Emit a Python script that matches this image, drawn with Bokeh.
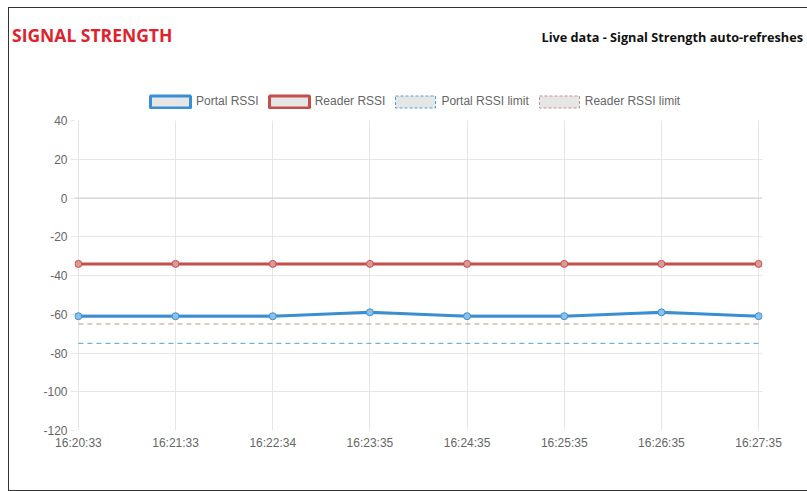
from bokeh.plotting import figure
from bokeh.layouts import column
from bokeh.models import Range1d, FixedTicker, Legend, LegendItem, Span, Div
from bokeh.embed import file_html
from bokeh.resources import INLINE

times = ["16:20:33", "16:21:33", "16:22:34", "16:23:35",
         "16:24:35", "16:25:35", "16:26:35", "16:27:35"]
portal_rssi = [-61, -61, -61, -59, -61, -61, -59, -61]
reader_rssi = [-34, -34, -34, -34, -34, -34, -34, -34]
portal_limit = [-75, -75, -75, -75, -75, -75, -75, -75]
reader_limit = [-65, -65, -65, -65, -65, -65, -65, -65]
y_ticks = [40, 20, 0, -20, -40, -60, -80, -100, -120]
y_labels = ["40", "20", "0", "-20", "-40", "-60", "-80", "-100", "-120"]
series_names = ["Portal RSSI", "Reader RSSI", "Portal RSSI limit", "Reader RSSI limit"]
title_left = "SIGNAL STRENGTH"
title_right = "Live data - Signal Strength auto-refreshes"

idx = list(range(len(times)))
NAN = float("nan")

BLUE = "#3a8fd3"
RED = "#c44f4a"
BLUE_LIM = "#4aa0dc"
RED_LIM = "#c8918c"
GRID = "#e6e6e6"
FONT = "Liberation Sans"

# ---------- titles ----------
header = Div(width=798, height=52, styles={"margin": "0", "padding": "0"},
             text=('<div style="position:relative;width:798px;height:52px;margin:0;padding:0;">'
                   '<span style="position:absolute;left:3px;top:16px;line-height:22px;'
                   'white-space:nowrap;font-family:\'Open Sans\';font-weight:bold;'
                   'font-size:17.5px;color:#e0222d;">' + title_left + '</span>'
                   '<span style="position:absolute;right:4px;top:21px;line-height:16px;'
                   'white-space:nowrap;font-family:\'Open Sans\';font-weight:bold;'
                   'font-size:12.7px;color:#111111;">' + title_right + '</span></div>'))

# ---------- legend strip ----------
h = figure(width=798, height=50, output_backend="svg", toolbar_location=None,
           x_range=Range1d(0, 1), y_range=Range1d(0, 1),
           x_axis_type=None, y_axis_type=None, min_border=0,
           outline_line_color=None, background_fill_color="white",
           border_fill_color="white")
h.grid.visible = False

sw1 = h.rect(x=[NAN], y=[NAN], width=1, height=1, fill_color="#e6e6e6",
             line_color=BLUE, line_width=3)
sw2 = h.rect(x=[NAN], y=[NAN], width=1, height=1, fill_color="#e6e6e6",
             line_color=RED, line_width=3)
sw3 = h.rect(x=[NAN], y=[NAN], width=1, height=1, fill_color="#e6e6e6",
             line_color=BLUE_LIM, line_width=1, line_dash="3 2")
sw4 = h.rect(x=[NAN], y=[NAN], width=1, height=1, fill_color="#e6e6e6",
             line_color=RED_LIM, line_width=1, line_dash="3 2")
legend = Legend(items=[LegendItem(label=n, renderers=[r])
                       for n, r in zip(series_names, [sw1, sw2, sw3, sw4])],
                orientation="horizontal", location=(71, 1.5),
                glyph_width=50, glyph_height=15, label_height=15,
                label_standoff=1, spacing=5, padding=0, margin=0,
                label_text_font=FONT, label_text_font_size="12px",
                label_text_color="#666666", label_text_baseline="middle",
                background_fill_alpha=0, border_line_color=None)
h.add_layout(legend)

# ---------- main chart ----------
p = figure(width=798, height=380, output_backend="svg", toolbar_location=None,
           x_range=Range1d(-0.04, 7.04), y_range=Range1d(-120, 40),
           min_border_left=65, min_border_right=45, min_border_top=10,
           min_border_bottom=60, background_fill_color="white",
           border_fill_color="white", outline_line_color=None)

p.xaxis.ticker = FixedTicker(ticks=idx)
p.xaxis.major_label_overrides = {i: t for i, t in zip(idx, times)}
p.yaxis.ticker = FixedTicker(ticks=y_ticks)
p.yaxis.major_label_overrides = {v: s for v, s in zip(y_ticks, y_labels)}
for ax in (p.xaxis[0], p.yaxis[0]):
    ax.axis_line_color = None
    ax.major_label_text_font = FONT
    ax.major_label_text_font_size = "12px"
    ax.major_label_text_color = "#666666"
    ax.minor_tick_line_color = None
    ax.major_tick_in = 0
    ax.major_tick_line_color = GRID
p.xaxis.major_tick_out = 0
p.xaxis.major_label_standoff = 5
p.yaxis.major_tick_out = 4
p.yaxis.major_label_standoff = 3

p.xgrid.ticker = FixedTicker(ticks=idx)
p.ygrid.ticker = FixedTicker(ticks=y_ticks)
p.xgrid.grid_line_color = GRID
p.ygrid.grid_line_color = GRID
p.add_layout(Span(location=0, dimension="width", line_color="#cfcfcf", line_width=1))

p.line(idx, reader_limit, line_color=RED_LIM, line_width=1, line_dash="5 4")
p.line(idx, portal_limit, line_color=BLUE_LIM, line_width=1, line_dash="5 4")
p.line(idx, reader_rssi, line_color=RED, line_width=3)
p.scatter(idx, reader_rssi, marker="circle", size=7, fill_color="#dc9a96",
          line_color=RED, line_width=1)
p.line(idx, portal_rssi, line_color=BLUE, line_width=3)
p.scatter(idx, portal_rssi, marker="circle", size=7, fill_color="#8cc0e8",
          line_color=BLUE, line_width=1)

root = column(header, h, p, spacing=0,
              styles={"margin-left": "9px", "margin-top": "8px",
                      "outline": "1px solid #333333"})

open("out.html", "w").write(file_html(root, INLINE))
